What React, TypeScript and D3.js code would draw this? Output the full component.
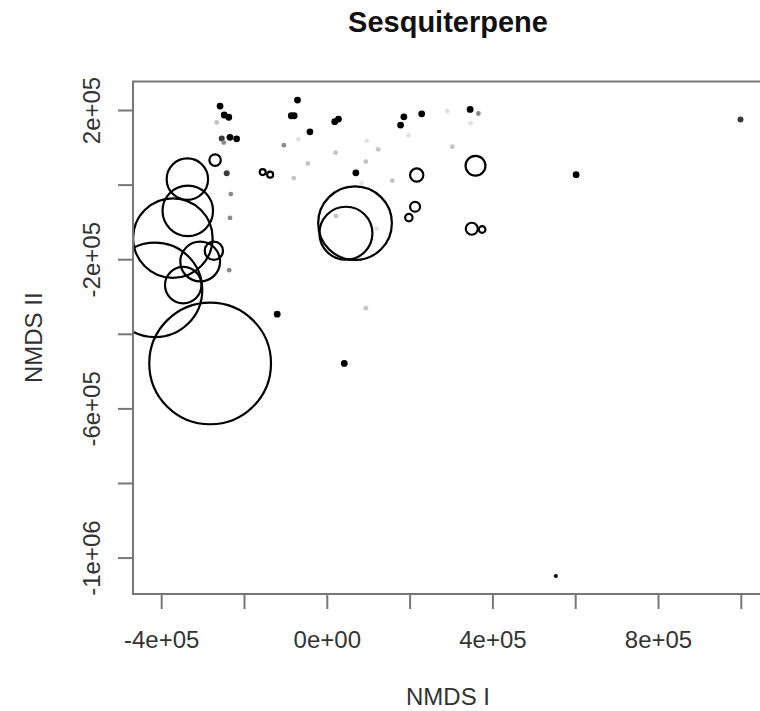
import React from "react";
import * as d3 from "d3";

// Filled points: [x, y, grey level]
const dotX = [-259, -249, -238, -235, -219, -255, -250, -267, -72, -87, -80, -42, 18, 27, -105, -70, -47, -81, 20, 93, 123, 95, 69, -243, -233, -235, -237, 21, 185, 177, 228, 345, 365, 290, 346, 302, 196, 157, 83, 119, 601, 998, -121, 41, 93, 552].map((v) => v * 1000);
const dotY = [212, 188, 182, 128, 124, 125, 114, 168, 228, 186, 186, 143, 170, 177, 107, 123, 58, 19, 87, 63, 96, 118, 33, 32, -24, -88, -228, -83, 183, 161, 191, 203, 192, 199, 166, 103, 134, 12, 6, -116, 28, 176, -346, -478, -330, -1048].map((v) => v * 1000);
// shade: 0 black, 1 dark grey, 2 grey, 3 light grey, 4 very light
const dotShade = [0, 0, 0, 0, 0, 1, 2, 3, 0, 0, 0, 0, 0, 0, 2, 4, 3, 3, 3, 3, 3, 4, 0, 1, 2, 2, 2, 3, 0, 0, 0, 0, 2, 4, 4, 3, 4, 3, 4, 4, 0, 1, 0, 0, 3, 0];

// Open circles: centre and radius (in NMDS I units)
const circX = [-271, -156, -138, -338, -337, -373, -416, -274, -307, -348, -283, 67, 45, 216, 358, 212, 197, 349, 374].map((v) => v * 1000);
const circY = [67, 35, 28, 16, -69, -142, -281, -176, -205, -268, -478, -102, -129, 27, 52, -58, -87, -117, -119].map((v) => v * 1000);
const circR = [13.8, 7.2, 7.2, 50, 61, 96, 114, 22, 48, 44, 147, 89, 64, 16, 24, 12, 9, 14.5, 8].map((v) => v * 1000);

const xTicks = [-400000, -200000, 0, 200000, 400000, 600000, 800000, 1000000];
const xTickLabels = ["-4e+05", "", "0e+00", "", "4e+05", "", "8e+05", ""];
const yTicks = [200000, 0, -200000, -400000, -600000, -800000, -1000000];
const yTickLabels = ["2e+05", "", "-2e+05", "", "-6e+05", "", "-1e+06"];

const shadeColors = ["#000000", "#3a3a3a", "#8a8a8a", "#c4c4c4", "#e2e2e2"];
const shadeRadius = [3.4, 3.0, 2.4, 2.4, 2.4];

export default function App() {
  const W = 760;
  const H = 711;
  const left = 133;
  const right = 763;
  const top = 81.5;
  const bottom = 594;
  const x = d3.scaleLinear().domain([-469300, 1052400]).range([left, right]);
  const y = d3.scaleLinear().domain([-1096300, 277800]).range([bottom, top]);
  const rpx = (r: number) => x(r) - x(0);
  const font = "'Liberation Sans', Arial, Helvetica, sans-serif";
  const axisCol = "#777";
  const textCol = "#333";

  return (
    <svg width={W} height={H} style={{ position: "absolute", left: 0, top: 0, background: "#fff" }} fontFamily={font}>
      <rect x={0} y={0} width={W} height={H} fill="#fff" />
      <defs>
        <clipPath id="plotClip">
          <rect x={left} y={top} width={right - left} height={bottom - top} />
        </clipPath>
      </defs>
      <text x={(left + right) / 2} y={32} textAnchor="middle" fontSize={29} fontWeight="bold" fill="#111">
        Sesquiterpene
      </text>
      <g clipPath="url(#plotClip)">
        {dotX.map((vx, i) => (
          <circle key={"d" + i} cx={x(vx)} cy={y(dotY[i])} r={i === dotX.length - 1 ? 2 : shadeRadius[dotShade[i]]} fill={shadeColors[dotShade[i]]} />
        ))}
        {circX.map((vx, i) => (
          <circle key={"c" + i} cx={x(vx)} cy={y(circY[i])} r={rpx(circR[i])} fill="none" stroke="#000" strokeWidth={2.2} />
        ))}
      </g>
      <rect x={left} y={top} width={right - left} height={bottom - top} fill="none" stroke={axisCol} strokeWidth={2} />
      {xTicks.map((t, i) => (
        <g key={"xt" + i}>
          <line x1={x(t)} x2={x(t)} y1={bottom} y2={bottom + 15} stroke={axisCol} strokeWidth={2} />
          {xTickLabels[i] && (
            <text x={x(t)} y={648} textAnchor="middle" fontSize={24} fill={textCol}>
              {xTickLabels[i]}
            </text>
          )}
        </g>
      ))}
      {yTicks.map((t, i) => (
        <g key={"yt" + i}>
          <line x1={left - 15} x2={left} y1={y(t)} y2={y(t)} stroke={axisCol} strokeWidth={2} />
          {yTickLabels[i] && (
            <text transform={`translate(100,${y(t)}) rotate(-90)`} textAnchor="middle" fontSize={24} fill={textCol}>
              {yTickLabels[i]}
            </text>
          )}
        </g>
      ))}
      <text x={(left + right) / 2} y={705} textAnchor="middle" fontSize={24} fill={textCol}>
        NMDS I
      </text>
      <text transform={`translate(42,${(top + bottom) / 2}) rotate(-90)`} textAnchor="middle" fontSize={24} fill={textCol}>
        NMDS II
      </text>
    </svg>
  );
}
